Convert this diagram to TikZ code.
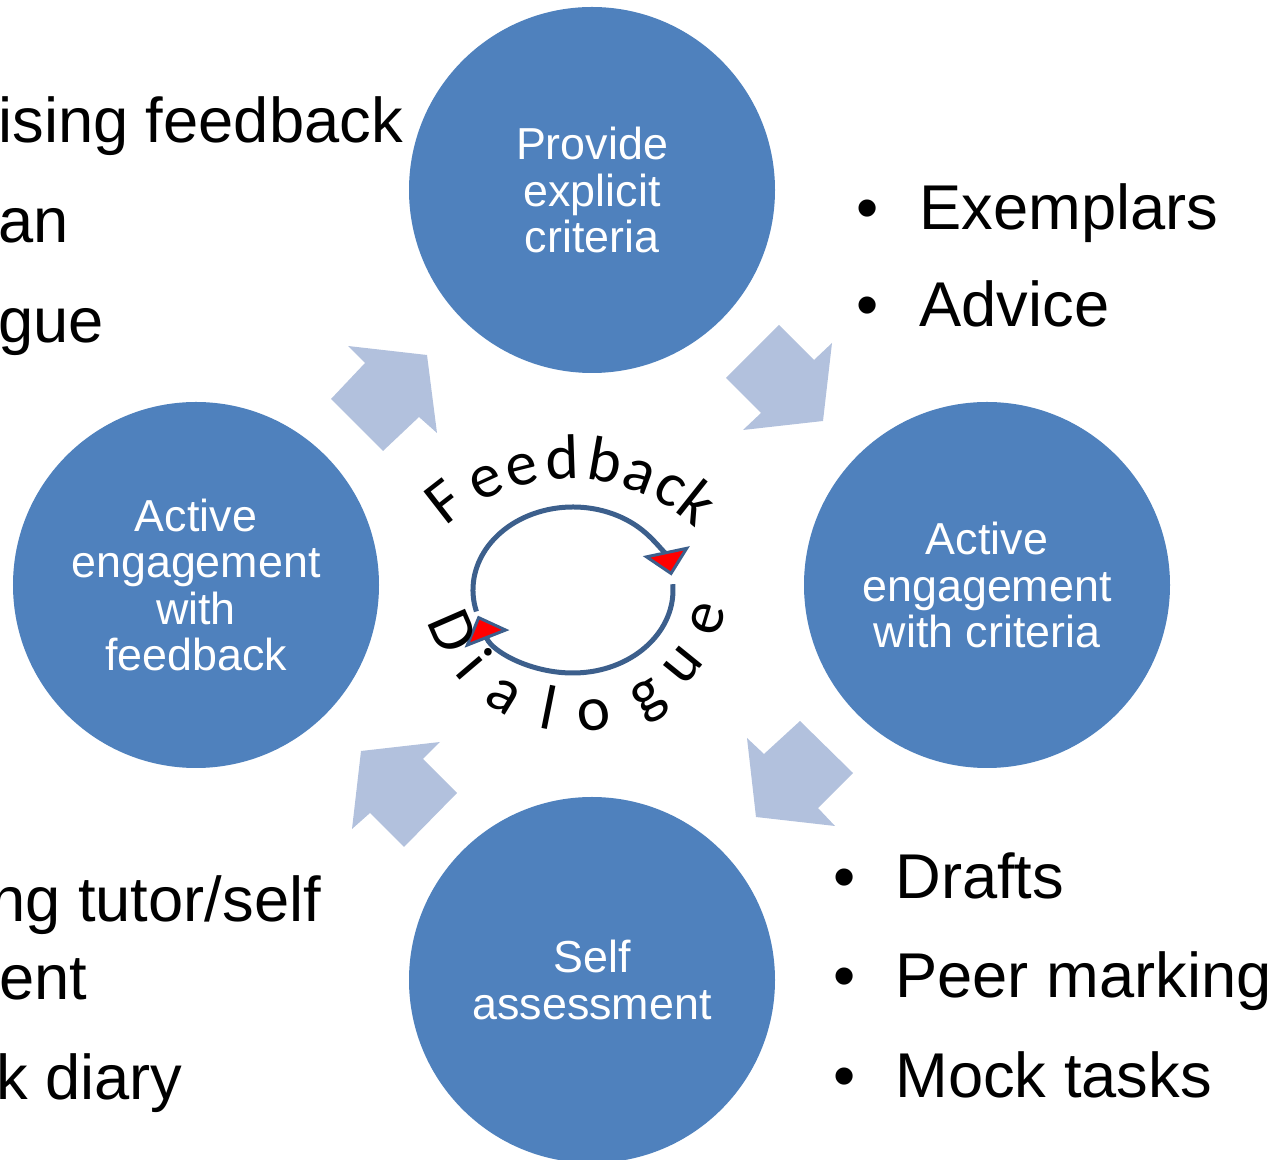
\documentclass[tikz,border=0pt]{standalone}
\usepackage{fontspec}
\setmainfont{Liberation Sans}
\newfontfamily\ringfont{Carlito}
\usetikzlibrary{arrows.meta,calc}
\definecolor{stageblue}{RGB}{79,129,189}
\definecolor{arrowblue}{RGB}{178,193,221}
\definecolor{loopblue}{RGB}{60,95,140}
\tikzset{
  stage/.style={circle, fill=stageblue, text=white, minimum size=7.32cm, inner sep=0pt,
    align=center, font=\fontsize{25.5}{26.5}\selectfont},
  sidenote/.style={anchor=base west, inner sep=0pt, font=\fontsize{36}{40}\selectfont},
  bulletmark/.style={anchor=base, inner sep=0pt, font=\fontsize{36}{40}\selectfont},
  cyclearrow/.style={fill=arrowblue},
  ringletter/.style={anchor=base, inner sep=0pt, font=\ringfont\fontsize{36}{38}\selectfont},
  looparc/.style={loopblue, line width=0.1cm,
    -{Triangle[length=0.5cm, width=0.95cm, fill=red, line width=0.06cm]}},
}
\begin{document}
\begin{tikzpicture}[x=0.2mm, y=0.2mm]
  \useasboundingbox (0,0) rectangle (1274,1160);
  % Stages
  \node (criteria) [stage] at (592,970) {Provide\\explicit\\criteria};
  \node (engcrit) [stage] at (987,575) {Active\\engagement\\with criteria};
  \node (selfass) [stage] at (592,180) {Self\\assessment};
  \node (engfb) [stage] at (196,575) {Active\\engagement\\with\\feedback};
  % Block arrows between the stages
  \fill[cyclearrow] (348,814) -- (427,805) -- (437,727) -- (419,743) -- (383,709) -- (331,761) -- (365,797) -- cycle;
  \fill[cyclearrow] (779,835) -- (814,800) -- (832,817) -- (823,739) -- (743,730) -- (761,747) -- (726,782) -- cycle;
  \fill[cyclearrow] (800,439) -- (853,387) -- (818,352) -- (835,334) -- (756,343) -- (747,422) -- (764,406) -- cycle;
  \fill[cyclearrow] (440,418) -- (423,401) -- (457,367) -- (404,313) -- (370,347) -- (352,331) -- (361,409) -- cycle;
  % Feedback dialogue loop
  \coordinate (loop) at (573,570);
  \draw[looparc] ($(loop)+(195:2cm and 1.66cm)$) arc[start angle=195, end angle=10, x radius=2cm, y radius=1.66cm];
  \draw[looparc] ($(loop)+(4:2cm and 1.66cm)$) arc[start angle=4, end angle=-162, x radius=2cm, y radius=1.66cm];
  \coordinate (fbc) at (570,497);
  \foreach \ch/\a [count=\i] in {F/127.9, e/114.7, e/104, d/92, b/80, a/69.6, c/60, k/51.5}
    \node (fb\i) [ringletter, rotate=\a-90] at ($(fbc)+(\a:3.68cm)$) {\ch};
  \coordinate (dlc) at (575,582);
  \foreach \ch/\a [count=\i] in {D/203.5, i/220.4, a/238.7, l/258.7, o/278, g/301.5, u/321, e/343}
    \node (dl\i) [ringletter, rotate=\a+90] at ($(dlc)+(\a:3.08cm)$) {\ch};
  % Notes on the left
  \node (lt1) [sidenote] at (-2,1017) {ising feedback};
  \node (lt2) [sidenote] at (-2,917) {an};
  \node (lt3) [sidenote] at (-2,817) {gue};
  \node (lb1) [sidenote] at (-10,238) {ng tutor/self};
  \node (lb2) [sidenote] at (-1,160) {ent};
  \node (lb3) [sidenote] at (-4,60) {k diary};
  % Notes on the right
  \node (b1) [bulletmark] at (868,930) {•};
  \node (rt1) [sidenote] at (919,930) {Exemplars};
  \node (b2) [bulletmark] at (868,833) {•};
  \node (rt2) [sidenote] at (919,833) {Advice};
  \node (b3) [bulletmark] at (845,261) {•};
  \node (rb1) [sidenote] at (895,261) {Drafts};
  \node (b4) [bulletmark] at (845,162) {•};
  \node (rb2) [sidenote] at (895,162) {Peer marking};
  \node (b5) [bulletmark] at (845,62) {•};
  \node (rb3) [sidenote] at (895,62) {Mock tasks};
\end{tikzpicture}
\end{document}
